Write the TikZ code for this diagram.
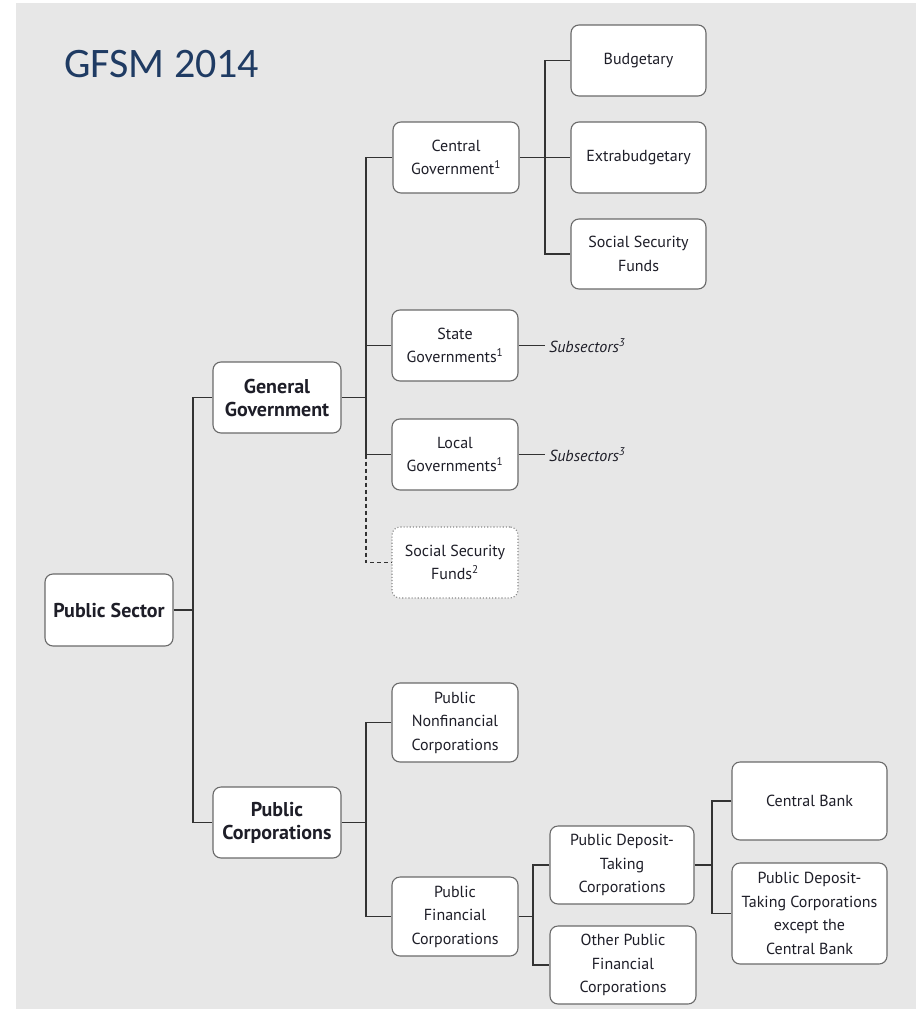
\documentclass[tikz,border=0pt]{standalone}
\usepackage{fontspec}
\setmainfont{PT Sans}
\newfontfamily\titlefont{Carlito}
\definecolor{bggray}{HTML}{E7E7E7}
\definecolor{titleblue}{HTML}{1F3B63}
\definecolor{boxline}{HTML}{6A6A6A}
\definecolor{conn}{HTML}{333333}
\definecolor{txt}{HTML}{1E1E28}
\tikzset{
  box/.style={draw=boxline, fill=white, rounded corners=8pt, line width=1.1pt,
    align=center, inner sep=0pt, text=txt,
    font=\fontsize{16}{23.5}\selectfont},
  boldbox/.style={box, font=\fontsize{20}{23}\selectfont\bfseries},
  dotbox/.style={box, draw=boxline!80, dotted, line width=1.1pt},
  link/.style={draw=conn, line width=1.1pt},
  sublabel/.style={anchor=west, inner sep=4pt, text=txt,
    font=\fontsize{16}{18}\selectfont\itshape},
}
\begin{document}
\begin{tikzpicture}[x=1pt,y=-1pt]
\useasboundingbox (0,0) rectangle (916,1009);
\fill[white] (0,0) rectangle (916,1009);
\fill[bggray] (16,3) rectangle (916,1009);

\node[anchor=base west, inner sep=0pt, text=titleblue,
  font=\titlefont\fontsize{42}{48}\selectfont] (title) at (64,77) {GFSM 2014};

% nodes
\node[boldbox, minimum width=128pt, minimum height=72pt] (ps) at (109,610) {Public Sector};
\node[boldbox, minimum width=128pt, minimum height=71pt] (gg) at (277,397.5) {General\\Government};
\node[boldbox, minimum width=128pt, minimum height=71pt] (pc) at (277,822.5) {Public\\Corporations};

\node[box, minimum width=126pt, minimum height=71pt] (cg) at (456,157.5) {Central\\Government\textsuperscript{1}};
\node[box, minimum width=126pt, minimum height=71pt] (sg) at (455,345.5) {State\\Governments\textsuperscript{1}};
\node[box, minimum width=126pt, minimum height=71pt] (lg) at (455,454.5) {Local\\Governments\textsuperscript{1}};
\node[dotbox, minimum width=126pt, minimum height=71pt] (ssfb) at (455,562.5) {Social Security\\Funds\textsuperscript{2}};

\node[box, minimum width=135pt, minimum height=71pt] (bud) at (638.5,60.5) {Budgetary};
\node[box, minimum width=135pt, minimum height=71pt] (ext) at (638.5,157.5) {Extrabudgetary};
\node[box, minimum width=135pt, minimum height=70pt] (ssf) at (638.5,254) {Social Security\\Funds};

\node[sublabel] (sub1) at (545,345.5) {Subsectors\textsuperscript{3}};
\node[sublabel] (sub2) at (545,454.5) {Subsectors\textsuperscript{3}};

\node[box, minimum width=126pt, minimum height=79pt] (pnc) at (455,722.5) {Public\\Nonfinancial\\Corporations};
\node[box, minimum width=126pt, minimum height=79pt] (pfc) at (455,916.5) {Public\\Financial\\Corporations};

\node[box, minimum width=144pt, minimum height=78pt] (pdtc) at (622,865) {Public Deposit-\\Taking\\Corporations};
\node[box, minimum width=146pt, minimum height=78pt] (opfc) at (623,965) {Other Public\\Financial\\Corporations};

\node[box, minimum width=155pt, minimum height=78pt] (cb) at (809.5,801) {Central Bank};
\node[box, minimum width=155pt, minimum height=101pt] (pdtcx) at (809.5,913.5) {Public Deposit-\\Taking Corporations\\except the\\Central Bank};

% bus coordinates
\coordinate (busA) at (193,0);
\coordinate (busB) at (366,0);
\coordinate (busC) at (545,0);
\coordinate (busE) at (533,0);
\coordinate (busF) at (712,0);

% connectors
\draw[link] (ps.east) -- (ps.east -| busA);
\draw[link] (gg.west) -- (gg.west -| busA) -- (pc.west -| busA) -- (pc.west);

\draw[link] (gg.east) -- (gg.east -| busB);
\draw[link] (cg.west) -- (cg.west -| busB) -- (lg.west -| busB) -- (lg.west);
\draw[link] (sg.west) -- (sg.west -| busB);
\draw[link, dashed, dash pattern=on 4pt off 3pt] (lg.west -| busB) -- (ssfb.west -| busB) -- (ssfb.west);

\draw[link] (cg.east) -- (ext.west);
\draw[link] (bud.west) -- (bud.west -| busC) -- (ssf.west -| busC) -- (ssf.west);

\draw[link] (sg.east) -- (sg.east -| sub1.west);
\draw[link] (lg.east) -- (lg.east -| sub2.west);

\draw[link] (pc.east) -- (pc.east -| busB);
\draw[link] (pnc.west) -- (pnc.west -| busB) -- (pfc.west -| busB) -- (pfc.west);

\draw[link] (pfc.east) -- (pfc.east -| busE);
\draw[link] (pdtc.west) -- (pdtc.west -| busE) -- (opfc.west -| busE) -- (opfc.west);

\draw[link] (pdtc.east) -- (pdtc.east -| busF);
\draw[link] (cb.west) -- (cb.west -| busF) -- (pdtcx.west -| busF) -- (pdtcx.west);
\end{tikzpicture}
\end{document}
